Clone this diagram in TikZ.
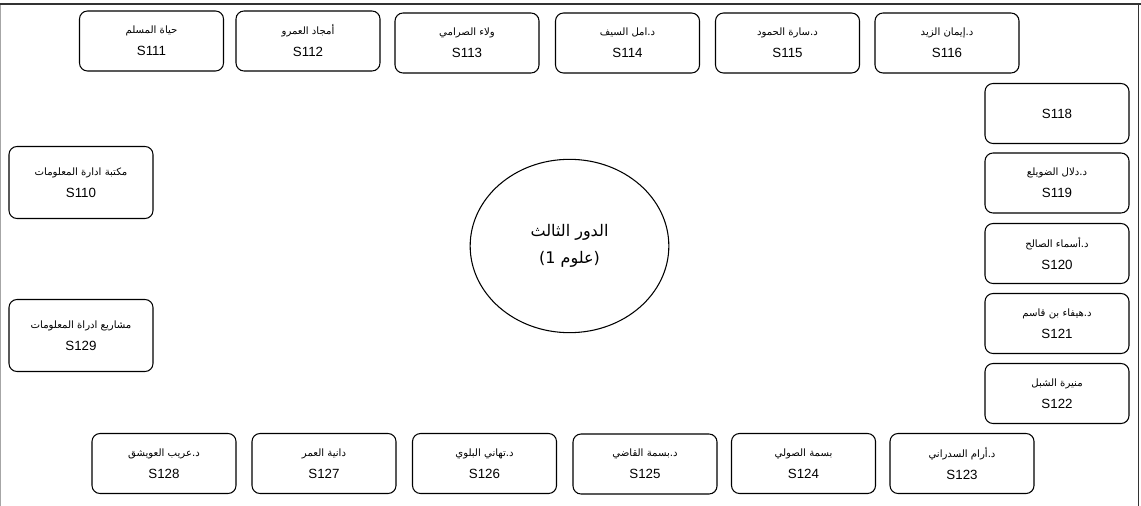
\documentclass[tikz,border=0pt]{standalone}
\usepackage{fontspec}
\setmainfont{Liberation Sans}
\newfontfamily\arabicfont[Script=Arabic]{DejaVu Sans}
\TeXXeTstate=1
\usetikzlibrary{shapes.geometric}

\begin{document}
\begin{tikzpicture}[x=0.75pt, y=-0.75pt,
    room/.style={draw, shape=rectangle, rounded corners=6pt, line width=0.8pt,
        minimum width=108pt, minimum height=45pt, align=center,
        font=\fontsize{10}{16.5}\selectfont},
    office/.style={room, minimum height=54pt},
    floor/.style={draw, shape=ellipse, line width=0.8pt, minimum width=149pt,
        minimum height=130pt, align=center, font=\fontsize{12}{20}\selectfont}]
            \useasboundingbox (0,0) rectangle (1141,506);
            \draw[gray!70, line width=1pt] (0.5,4) -- (0.5,506);
            \draw[black!80, line width=1pt] (0,4) -- (1141,4);
            \draw[black!80, line width=1pt] (1138.5,4) -- (1138.5,506);

            % top row
            \node[room] (S111) at (151.5, 41) {{\arabicfont\fontsize{7.6}{16.5}\selectfont\beginR حياة المسلم\endR}\\S111};
            \node[room] (S112) at (308, 41) {{\arabicfont\fontsize{7.6}{16.5}\selectfont\beginR أمجاد العمرو\endR}\\S112};
            \node[room] (S113) at (467, 43) {{\arabicfont\fontsize{7.6}{16.5}\selectfont\beginR ولاء الصرامي\endR}\\S113};
            \node[room] (S114) at (627.5, 43) {{\arabicfont\fontsize{7.6}{16.5}\selectfont\beginR د.امل السيف\endR}\\S114};
            \node[room] (S115) at (787.5, 43) {{\arabicfont\fontsize{7.6}{16.5}\selectfont\beginR د.سارة الحمود\endR}\\S115};
            \node[room] (S116) at (947, 43) {{\arabicfont\fontsize{7.6}{16.5}\selectfont\beginR د.إيمان الزيد\endR}\\S116};

            % right column
            \node[room] (S118) at (1057, 113.5) {S118};
            \node[room] (S119) at (1057, 183) {{\arabicfont\fontsize{7.6}{16.5}\selectfont\beginR د.دلال الضويلع\endR}\\S119};
            \node[room] (S120) at (1057, 253.5) {{\arabicfont\fontsize{7.6}{16.5}\selectfont\beginR د.أسماء الصالح\endR}\\S120};
            \node[room] (S121) at (1057, 323.5) {{\arabicfont\fontsize{7.6}{16.5}\selectfont\beginR د.هيفاء بن قاسم\endR}\\S121};
            \node[room] (S122) at (1057, 393.5) {{\arabicfont\fontsize{7.6}{16.5}\selectfont\beginR منيرة الشبل\endR}\\S122};

            % left column
            \node[office] (S110) at (81, 182.5) {{\arabicfont\fontsize{7.6}{16.5}\selectfont\beginR مكتبة ادارة المعلومات\endR}\\S110};
            \node[office] (S129) at (81, 335.5) {{\arabicfont\fontsize{7.6}{16.5}\selectfont\beginR مشاريع ادراة المعلومات\endR}\\S129};

            % bottom row
            \node[room] (S128) at (164, 463.5) {{\arabicfont\fontsize{7.6}{16.5}\selectfont\beginR د.عريب العويشق\endR}\\S128};
            \node[room] (S127) at (324, 463.5) {{\arabicfont\fontsize{7.6}{16.5}\selectfont\beginR دانية العمر\endR}\\S127};
            \node[room] (S126) at (484.5, 463.5) {{\arabicfont\fontsize{7.6}{16.5}\selectfont\beginR د.تهاني البلوي\endR}\\S126};
            \node[room] (S125) at (645, 464) {{\arabicfont\fontsize{7.6}{16.5}\selectfont\beginR د.بسمة القاضي\endR}\\S125};
            \node[room] (S124) at (803.5, 463.5) {{\arabicfont\fontsize{7.6}{16.5}\selectfont\beginR بسمة الصولي\endR}\\S124};
            \node[room] (S123) at (962, 463.5) {{\arabicfont\fontsize{7.6}{16.5}\selectfont\beginR د.أرام السدراني\endR}\\S123};

            % centre
            \node[floor] (F3) at (569.5, 246) {{\arabicfont\beginR الدور الثالث\endR}\\{\arabicfont\beginR\beginL(\endL علوم \beginL1\endL\beginL)\endL\endR}};
        \end{tikzpicture}
\end{document}
